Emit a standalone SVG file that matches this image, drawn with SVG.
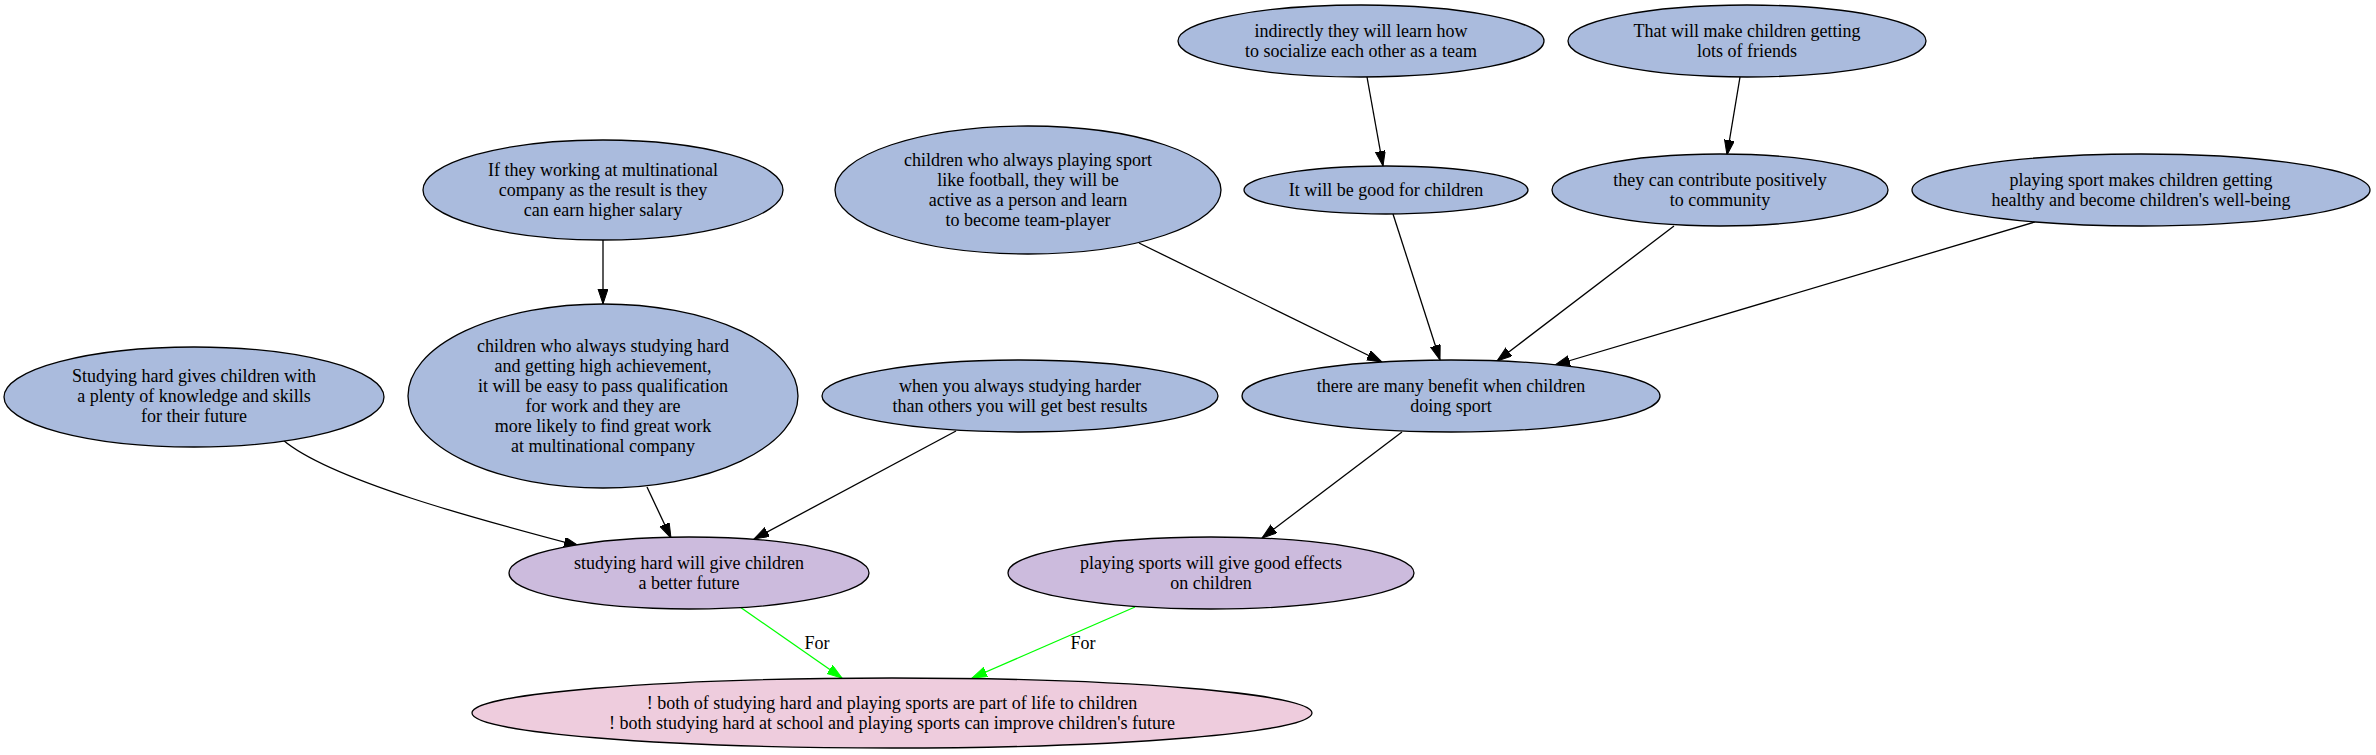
<svg xmlns="http://www.w3.org/2000/svg" width="2376" height="755" viewBox="0 0 2376 755">
<style>
.n ellipse{stroke:#000;stroke-width:1.3}
.b ellipse{fill:#aabbdd}
.p ellipse{fill:#ccbbdd}
.k ellipse{fill:#eeccdd}
text{font-family:"Liberation Serif","Times New Roman",serif;font-size:18px;fill:#000;text-anchor:middle}
.e path{fill:none;stroke:#000;stroke-width:1.3}
.e path.g{stroke:#00ff00}
</style>
<defs>
<marker id="ah" markerUnits="userSpaceOnUse" markerWidth="16" markerHeight="12" refX="15" refY="5" orient="auto" viewBox="0 0 16 12">
<path d="M0,0 L15,5 L0,10 Z" fill="#000" stroke="#000" stroke-width="1"/>
</marker>
<marker id="ahg" markerUnits="userSpaceOnUse" markerWidth="16" markerHeight="12" refX="15" refY="5" orient="auto" viewBox="0 0 16 12">
<path d="M0,0 L15,5 L0,10 Z" fill="#00ff00" stroke="#00ff00" stroke-width="1"/>
</marker>
</defs>
<rect width="2376" height="755" fill="#fff"/>
<g id="edges" class="e">
<path d="M603,239 L603,304" marker-end="url(#ah)"/>
<path d="M1367,77 L1383,166" marker-end="url(#ah)"/>
<path d="M1740,77 L1727,155" marker-end="url(#ah)"/>
<path d="M1139,243 L1382,362" marker-end="url(#ah)"/>
<path d="M1393,214 L1440,360" marker-end="url(#ah)"/>
<path d="M1674,226 L1497,361" marker-end="url(#ah)"/>
<path d="M2035,222 L1555,365" marker-end="url(#ah)"/>
<path d="M283,440 C330,480 480,520 579,546" marker-end="url(#ah)"/>
<path d="M647,487 L671,538" marker-end="url(#ah)"/>
<path d="M956,431 L754,539" marker-end="url(#ah)"/>
<path d="M1402,432 L1262,538" marker-end="url(#ah)"/>
<path class="g" d="M740,607 L842,678" marker-end="url(#ahg)"/>
<path class="g" d="M1135,607 L972,678" marker-end="url(#ahg)"/>
<text x="817" y="649">For</text>
<text x="1083" y="649">For</text>
</g>
<g id="nA" class="n b"><ellipse cx="1361" cy="41" rx="183" ry="36"/><text x="1361" y="37">indirectly they will learn how</text><text x="1361" y="57">to socialize each other as a team</text></g>
<g id="nB" class="n b"><ellipse cx="1747" cy="41" rx="179" ry="36"/><text x="1747" y="37">That will make children getting</text><text x="1747" y="57">lots of friends</text></g>
<g id="nC" class="n b"><ellipse cx="603" cy="190" rx="180" ry="50"/><text x="603" y="176">If they working at multinational</text><text x="603" y="196">company as the result is they</text><text x="603" y="216">can earn higher salary</text></g>
<g id="nD" class="n b"><ellipse cx="1028" cy="190" rx="193" ry="64"/><text x="1028" y="166">children who always playing sport</text><text x="1028" y="186">like football, they will be</text><text x="1028" y="206">active as a person and learn</text><text x="1028" y="226">to become team-player</text></g>
<g id="nE" class="n b"><ellipse cx="1386" cy="190" rx="142" ry="24"/><text x="1386" y="196">It will be good for children</text></g>
<g id="nF" class="n b"><ellipse cx="1720" cy="190" rx="168" ry="36"/><text x="1720" y="186">they can contribute positively</text><text x="1720" y="206">to community</text></g>
<g id="nG" class="n b"><ellipse cx="2141" cy="190" rx="229" ry="36"/><text x="2141" y="186">playing sport makes children getting</text><text x="2141" y="206">healthy and become children's well-being</text></g>
<g id="nH" class="n b"><ellipse cx="194" cy="397" rx="190" ry="50"/><text x="194" y="382">Studying hard gives children with</text><text x="194" y="402">a plenty of knowledge and skills</text><text x="194" y="422">for their future</text></g>
<g id="nI" class="n b"><ellipse cx="603" cy="396" rx="195" ry="92"/><text x="603" y="352">children who always studying hard</text><text x="603" y="372">and getting high achievement,</text><text x="603" y="392">it will be easy to pass qualification</text><text x="603" y="412">for work and they are</text><text x="603" y="432">more likely to find great work</text><text x="603" y="452">at multinational company</text></g>
<g id="nJ" class="n b"><ellipse cx="1020" cy="396" rx="198" ry="36"/><text x="1020" y="392">when you always studying harder</text><text x="1020" y="412">than others you will get best results</text></g>
<g id="nK" class="n b"><ellipse cx="1451" cy="396" rx="209" ry="36"/><text x="1451" y="392">there are many benefit when children</text><text x="1451" y="412">doing sport</text></g>
<g id="nL" class="n p"><ellipse cx="689" cy="573" rx="180" ry="36"/><text x="689" y="569">studying hard will give children</text><text x="689" y="589">a better future</text></g>
<g id="nM" class="n p"><ellipse cx="1211" cy="573" rx="203" ry="36"/><text x="1211" y="569">playing sports will give good effects</text><text x="1211" y="589">on children</text></g>
<g id="nN" class="n k"><ellipse cx="892" cy="713" rx="420" ry="35"/><text x="892" y="709">! both of studying hard and playing sports are part of life to children</text><text x="892" y="729">! both studying hard at school and playing sports can improve children's future</text></g>
</svg>
